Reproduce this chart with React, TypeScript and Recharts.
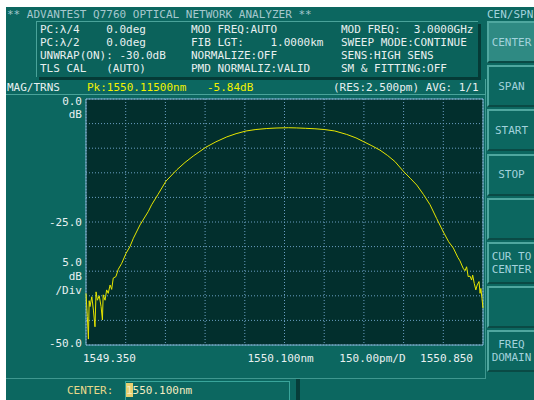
import { LineChart, Line, XAxis, YAxis, CartesianGrid, ReferenceArea } from "recharts";

// measured trace (wavelength nm / transmission dB)
const wavelengthNm = [
  1549.35, 1549.355, 1549.359, 1549.362, 1549.365, 1549.372, 1549.378, 1549.384, 1549.388,
  1549.393, 1549.4, 1549.407, 1549.412, 1549.415, 1549.422, 1549.428, 1549.434, 1549.441,
  1549.447, 1549.453, 1549.463, 1549.472, 1549.485, 1549.501, 1549.516, 1549.529, 1549.554,
  1549.585, 1549.598, 1549.622, 1549.652, 1549.693, 1549.724, 1549.755, 1549.803, 1549.841,
  1549.882, 1549.917, 1549.955, 1549.992, 1550.033, 1550.068, 1550.115, 1550.146, 1550.18,
  1550.215, 1550.25, 1550.29, 1550.335, 1550.37, 1550.4, 1550.43, 1550.461, 1550.49, 1550.517,
  1550.551, 1550.575, 1550.6, 1550.625, 1550.65, 1550.675, 1550.7, 1550.72, 1550.738, 1550.755,
  1550.763, 1550.775, 1550.782, 1550.788, 1550.794, 1550.801, 1550.807, 1550.811, 1550.817,
  1550.823, 1550.828, 1550.835, 1550.839, 1550.842, 1550.846, 1550.85,
];
const transmissionDb = [
  -39.5, -44.2, -48.8, -41.0, -42.2, -40.2, -42.9, -46.3, -39.2,
  -40.9, -40.0, -42.2, -44.9, -39.8, -40.9, -38.8, -39.5, -37.8,
  -38.7, -36.4, -36.1, -34.6, -33.4, -31.4, -30.0, -28.3, -25.6,
  -22.9, -21.5, -19.4, -16.7, -14.4, -12.9, -11.6, -9.8, -8.7,
  -7.7, -7.05, -6.5, -6.2, -6.0, -5.9, -5.84, -5.88, -5.96,
  -6.05, -6.2, -6.5, -7.2, -7.9, -8.7, -9.5, -10.4, -11.5, -12.7,
  -14.8, -16.1, -17.5, -19.4, -21.5, -24.3, -27.0, -29.0, -30.3, -32.2,
  -32.9, -34.4, -34.9, -34.1, -36.1, -36.0, -36.8, -35.8, -37.5,
  -38.8, -37.8, -37.1, -39.5, -38.5, -40.5, -42.5,
];

const xGridNm = [1549.35, 1549.5, 1549.65, 1549.8, 1549.95, 1550.1, 1550.25, 1550.4, 1550.55, 1550.7, 1550.85];
const yGridDb = [0, -5, -10, -15, -20, -25, -30, -35, -40, -45, -50];
const xLabelNm = [1549.35, 1550.1, 1550.55, 1550.85];
const xLabelText = ["1549.350", "1550.100nm", "150.00pm/D", "1550.850"];
const yLabelDb = [0, -25, -50];
const yLabelText = ["0.0", "-25.0", "-50.0"];

const paramCol1 = ["PC:λ/4    0.0deg", "PC:λ/2    0.0deg", "UNWRAP(ON): -30.0dB", "TLS CAL   (AUTO)"];
const paramCol2 = ["MOD FREQ:AUTO", "FIB LGT:    1.0000km", "NORMALIZE:OFF", "PMD NORMALIZ:VALID"];
const paramCol3 = ["MOD FREQ:  3.0000GHz", "SWEEP MODE:CONTINUE", "SENS:HIGH SENS", "SM & FITTING:OFF"];
const softKeys = [["CENTER"], ["SPAN"], ["START"], ["STOP"], [], ["CUR TO", "CENTER"], [], ["FREQ", "DOMAIN"]];

const MONO = '"DejaVu Sans Mono", "Liberation Mono", monospace';
const TEAL = "#0c6760";
const PLOT_BG = "#022f2d";
const GRID = "#6a9ec2";
const FRAME = "#86b6d6";
const WHITE = "#e8f0f0";
const YELLOW = "#f2f200";
const KEY_TXT = "#a2d2dc";

function Txt({ x, cy, color = WHITE, children }: any) {
  return (
    <div
      style={{
        position: "absolute", left: x, top: cy - 5.3, height: 11, lineHeight: "11px",
        fontSize: 11, fontFamily: MONO, color, whiteSpace: "pre",
      }}
    >
      {children}
    </div>
  );
}

function XTick({ x, y, payload }: any) {
  const i = xLabelNm.indexOf(payload.value);
  if (i < 0) return <g />;
  const place = [
    { anchor: "start", dx: -3 },
    { anchor: "start", dx: -37 },
    { anchor: "end", dx: 2 },
    { anchor: "end", dx: -10 },
  ][i];
  return (
    <text x={x + place.dx} y={y + 17} textAnchor={place.anchor} fontFamily={MONO} fontSize={11} fill={WHITE}>
      {xLabelText[i]}
    </text>
  );
}

function YTick({ x, y, payload }: any) {
  const i = yLabelDb.indexOf(payload.value);
  if (i < 0) return <g />;
  const dy = i === 0 ? 6 : i === 2 ? 2 : 4;
  return (
    <text x={x} y={y + dy} textAnchor="end" fontFamily={MONO} fontSize={11} fill={WHITE}>
      {yLabelText[i]}
    </text>
  );
}

export default function App() {
  const data = wavelengthNm.map((nm, i) => ({ nm, db: transmissionDb[i] }));

  return (
    <div style={{ position: "absolute", left: 0, top: 0, width: 534, height: 400, background: "#fff", overflow: "hidden" }}>
      <div style={{ position: "absolute", left: 6, top: 7, width: 528, height: 393, background: TEAL }} />

      {/* title */}
      <Txt x={7} cy={14} color="#a6c8ce">** ADVANTEST Q7760 OPTICAL NETWORK ANALYZER **</Txt>
      <Txt x={487} cy={14} color={KEY_TXT}>CEN/SPN</Txt>

      {/* parameter box */}
      <div
        style={{
          position: "absolute", left: 36, top: 21, width: 441, height: 55, background: "#0b625b",
          borderTop: "1px solid #4aa39a", borderLeft: "1px solid #4aa39a",
          boxShadow: "3px 3px 0 #053a36",
        }}
      />
      {paramCol1.map((s, i) => (
        <Txt key={"a" + i} x={40} cy={29 + i * 13}>{s}</Txt>
      ))}
      {paramCol2.map((s, i) => (
        <Txt key={"b" + i} x={191} cy={29 + i * 13}>{s}</Txt>
      ))}
      {paramCol3.map((s, i) => (
        <Txt key={"c" + i} x={341} cy={29 + i * 13}>{s}</Txt>
      ))}

      {/* status bar */}
      <div
        style={{
          position: "absolute", left: 6, top: 79, width: 479, height: 15,
          borderBottom: "1px solid #4aa39a", borderRight: "1px solid #4aa39a",
        }}
      />
      <Txt x={7} cy={87}>MAG/TRNS</Txt>
      <Txt x={87} cy={87} color={YELLOW}>Pk:1550.11500nm</Txt>
      <Txt x={207} cy={87} color={YELLOW}>-5.84dB</Txt>
      <Txt x={333} cy={87}>(RES:2.500pm) AVG: 1/1</Txt>

      {/* y unit labels */}
      <div style={{ position: "absolute", left: 0, top: 0, width: 82, textAlign: "right" }}>
        {[["dB", 114], ["5.0", 262], ["dB", 276], ["/Div", 290]].map(([s, cy], i) => (
          <div
            key={i}
            style={{
              position: "absolute", right: 0, top: (cy as number) - 5.3, lineHeight: "11px",
              fontSize: 11, fontFamily: MONO, color: WHITE, whiteSpace: "pre",
            }}
          >
            {s}
          </div>
        ))}
      </div>

      {/* plot panel borders */}
      <div style={{ position: "absolute", left: 6, top: 378, width: 480, height: 1, background: "#3f978f" }} />
      <div style={{ position: "absolute", left: 485, top: 95, width: 1, height: 284, background: "#3f978f" }} />

      {/* soft keys */}
      {softKeys.map((lines, i) => (
        <div
          key={i}
          style={{
            position: "absolute", left: 487, top: 21 + i * 44.2, width: 47, height: 42, boxSizing: "border-box",
            background: i === 0 ? "#2f8a83" : TEAL,
            borderTop: "2px solid #4fa79f", borderLeft: "2px solid #4fa79f",
            borderBottom: "2px solid #0a4a45", borderRight: "0",
            display: "flex", flexDirection: "column", justifyContent: "center", alignItems: "center",
          }}
        >
          {lines.map((s, j) => (
            <div key={j} style={{ fontSize: 11, lineHeight: "13px", fontFamily: MONO, color: KEY_TXT, whiteSpace: "pre" }}>
              {s}
            </div>
          ))}
        </div>
      ))}

      {/* bottom input line */}
      <Txt x={67} cy={390} color="#e6d88a">CENTER:</Txt>
      <div
        style={{
          position: "absolute", left: 125, top: 381, width: 165, height: 22, boxSizing: "border-box",
          border: "1px solid #3aa59b",
        }}
      />
      <div style={{ position: "absolute", left: 126, top: 383, width: 7, height: 14, background: "#e8d070" }} />
      <Txt x={126} cy={390} color="#f4ecc0">1550.100nm</Txt>
      <div style={{ position: "absolute", left: 296, top: 379, width: 4, height: 21, background: "#063d39" }} />

      {/* chart */}
      <div style={{ position: "absolute", left: 0, top: 0 }}>
        <LineChart width={534} height={400} data={data} margin={{ top: 99, right: 51, bottom: 0, left: 0 }}>
          <CartesianGrid fill={PLOT_BG} fillOpacity={1} stroke={GRID} strokeDasharray="1 2" />
          <XAxis
            type="number"
            dataKey="nm"
            domain={[1549.35, 1550.85]}
            ticks={xGridNm}
            interval={0}
            height={55}
            axisLine={false}
            tickLine={false}
            tickSize={0}
            tickMargin={0}
            tick={<XTick />}
          />
          <YAxis
            type="number"
            domain={[-50, 0]}
            ticks={yGridDb}
            interval={0}
            width={86}
            axisLine={false}
            tickLine={false}
            tickSize={0}
            tickMargin={4}
            tick={<YTick />}
          />
          <ReferenceArea
            x1={1549.35}
            x2={1550.85}
            y1={-50}
            y2={0}
            fill="none"
            stroke={FRAME}
            strokeWidth={1}
            ifOverflow="visible"
          />
          <Line type="linear" dataKey="db" stroke="#e6e600" strokeWidth={1} dot={false} isAnimationActive={false} />
        </LineChart>
      </div>
    </div>
  );
}
